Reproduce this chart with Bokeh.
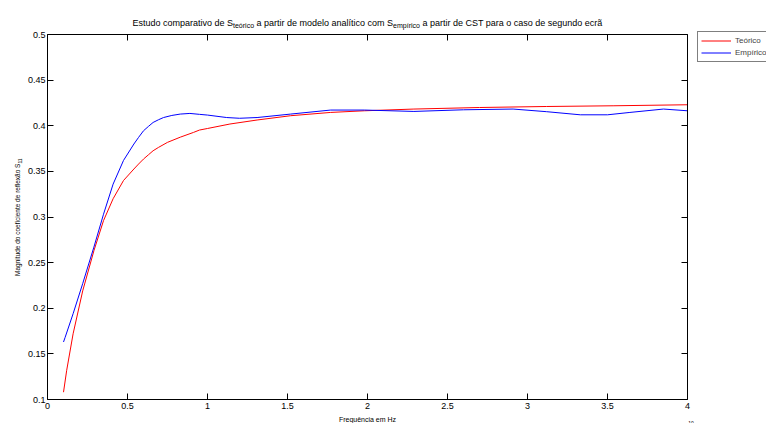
import math
from bokeh.plotting import figure
from bokeh.models import (Range1d, FixedTicker, LinearAxis, CustomJSTickFormatter,
                          Label, Legend, LegendItem)
from bokeh.embed import file_html
from bokeh.resources import INLINE

# ---- data (frequency in units of 1e10 Hz) ----
freq_teo = [0.1, 0.12, 0.16, 0.22, 0.29, 0.35, 0.41, 0.475, 0.54, 0.569, 0.6, 0.631,
            0.66, 0.694, 0.75, 0.83, 0.9125, 0.95, 1.0, 1.14, 1.31, 1.52, 1.77, 1.98,
            2.29, 2.7, 3.12, 3.54, 4.0]
s_teo = [0.108, 0.132, 0.172, 0.219, 0.263, 0.296, 0.32, 0.34, 0.3526, 0.358, 0.3635,
         0.3682, 0.3726, 0.3763, 0.3818, 0.3875, 0.3927, 0.3953, 0.397, 0.4019, 0.4063,
         0.411, 0.4146, 0.4164, 0.4183, 0.42, 0.4211, 0.4219, 0.423]

freq_emp = [0.1, 0.11, 0.16, 0.22, 0.29, 0.35, 0.41, 0.475, 0.54, 0.569, 0.6, 0.631,
            0.66, 0.694, 0.725, 0.777, 0.83, 0.89, 0.95, 1.0, 1.12, 1.2, 1.31, 1.52,
            1.77, 1.98, 2.29, 2.6, 2.91, 3.12, 3.33, 3.5, 3.64, 3.85, 4.0]
s_emp = [0.163, 0.168, 0.194, 0.227, 0.267, 0.303, 0.336, 0.362, 0.38, 0.3872, 0.3945,
         0.3993, 0.4036, 0.4066, 0.409, 0.4113, 0.4128, 0.4135, 0.4125, 0.4117, 0.409,
         0.4082, 0.409, 0.4128, 0.4172, 0.4172, 0.4157, 0.4175, 0.4183, 0.4154, 0.412,
         0.412, 0.4146, 0.4183, 0.4164]

x_ticks = [0, 0.5, 1, 1.5, 2, 2.5, 3, 3.5, 4]
y_ticks = [0.1, 0.15, 0.2, 0.25, 0.3, 0.35, 0.4, 0.45, 0.5]
x_lim = (0, 4)
y_lim = (0.1, 0.5)

series_names = ["Teórico", "Empírico"]
title_parts = [("Estudo comparativo de S", False), ("teórico", True),
               (" a partir de modelo analítico com S", False), ("empírico", True),
               (" a partir de CST para o caso de segundo ecrã", False)]
ylabel_main = "Magnitude do coeficiente de reflexão S"
ylabel_sub = "11"
xlabel = "Frequência em Hz"
exp_main = "× 10"
exp_sup = "10"

FONT = "Liberation Sans"

# Arial advance widths (per 1000 em) for laying out multi-part texts
AW = {' ': 278, 'a': 556, 'b': 556, 'c': 500, 'd': 556, 'e': 556, 'f': 278, 'g': 556,
      'h': 556, 'i': 222, 'j': 222, 'k': 500, 'l': 222, 'm': 833, 'n': 556, 'o': 556,
      'p': 556, 'q': 556, 'r': 333, 's': 500, 't': 278, 'u': 556, 'v': 500, 'w': 722,
      'x': 500, 'y': 500, 'z': 500, 'E': 667, 'S': 667, 'C': 722, 'T': 611, 'ó': 556,
      'í': 278, 'ã': 556, 'ê': 556, 'ç': 500, 'F': 611, 'H': 722, 'M': 833, '1': 556,
      '0': 556, '×': 584}


def tw(s, size):
    return sum(AW.get(c, 556) for c in s) * size / 1000.0


# ---- layout (canvas pixels) ----
W, H = 766, 423
AX_L, AX_R, AX_T, AX_B = 47, 687, 34, 399   # axes box in canvas pixels

# the plotting frame covers the whole canvas; the axes box is placed by the ranges
sx = (AX_R - AX_L) / (x_lim[1] - x_lim[0])
sy = (AX_B - AX_T) / (y_lim[1] - y_lim[0])
xr = Range1d(x_lim[0] - AX_L / sx, x_lim[1] + (W - AX_R) / sx)
yr = Range1d(y_lim[0] - (H - AX_B) / sy, y_lim[1] + AX_T / sy)

p = figure(width=W, height=H, output_backend="svg", toolbar_location=None,
           x_range=xr, y_range=yr, min_border=0,
           x_axis_type=None, y_axis_type=None)
p.title.visible = False
p.background_fill_color = "white"
p.border_fill_color = "white"
p.outline_line_color = None
p.grid.visible = False

fmt = CustomJSTickFormatter(code="return Number(tick.toFixed(2)).toString();")


def make_axis(ticks, bounds, loc, show_labels, standoff):
    ax = LinearAxis(ticker=FixedTicker(ticks=ticks), formatter=fmt,
                    bounds=bounds, fixed_location=loc)
    ax.axis_line_color = "black"
    ax.axis_line_width = 1
    ax.major_tick_in = 6
    ax.major_tick_out = 0
    ax.major_tick_line_color = "black"
    ax.minor_tick_line_color = None
    ax.major_label_text_font = FONT
    ax.major_label_text_font_size = "9px"
    ax.major_label_standoff = standoff
    ax.major_label_text_color = "black" if show_labels else None
    return ax


p.add_layout(make_axis(x_ticks, x_lim, y_lim[0], True, 3), "below")
p.add_layout(make_axis(y_ticks, y_lim, x_lim[0], True, 2), "left")
p.add_layout(make_axis(x_ticks, x_lim, y_lim[1], False, 0), "above")
p.add_layout(make_axis(y_ticks, y_lim, x_lim[1], False, 0), "right")

r1 = p.line(freq_teo, s_teo, line_color="#ff0000", line_width=1)
r2 = p.line(freq_emp, s_emp, line_color="#0000ff", line_width=1)

leg = Legend(items=[LegendItem(label=series_names[0], renderers=[r1]),
                    LegendItem(label=series_names[1], renderers=[r2])],
             location=(697, H - 62))
leg.border_line_color = "black"
leg.border_line_width = 1
leg.background_fill_color = "white"
leg.background_fill_alpha = 1
leg.padding = 3
leg.spacing = 1
leg.margin = 0
leg.label_height = 11
leg.glyph_height = 11
leg.glyph_width = 30
leg.label_standoff = 4
leg.label_text_font = FONT
leg.label_text_font_size = "8px"
p.add_layout(leg, "center")


def lab(text, cx, cy, size, align="left", baseline="alphabetic", angle=0.0):
    lb = Label(x=cx, y=cy, x_units="canvas", y_units="canvas",
               text=text, text_font=FONT, text_font_size=f"{size}px",
               text_align=align, text_baseline=baseline, angle=angle,
               text_color="black")
    p.add_layout(lb)


# title with subscripts (leading spaces become offsets, SVG collapses them)
TF, TS = 9, 7
total = sum(tw(t, TS if sub else TF) for t, sub in title_parts)
cx = (AX_L + AX_R) / 2.0 - total / 2.0
for t, sub in title_parts:
    size = TS if sub else TF
    stripped = t.lstrip(" ")
    lead = tw(t[:len(t) - len(stripped)], size)
    lab(stripped, cx + lead, 25 if sub else 22, size)
    cx += tw(t, size)

# x label
lab(xlabel, (AX_L + AX_R) / 2.0, 419, 7, align="center")

# exponent (partly below the window edge, as in the reference)
lab(exp_main, 674, 427, 7)
lab(exp_sup, 674 + tw(exp_main, 7), 422.5, 5)

# y label (rotated) with subscript
YF, YS = 6.5, 5
Lm = tw(ylabel_main, YF)
Ls = tw(ylabel_sub, YS)
ymid = (AX_T + AX_B) / 2.0
ystart = ymid + (Lm + Ls) / 2.0
lab(ylabel_main, 17, ystart, YF, angle=math.pi / 2)
lab(ylabel_sub, 19, ystart - Lm, YS, angle=math.pi / 2)

open("out.html", "w").write(file_html(p, INLINE))
